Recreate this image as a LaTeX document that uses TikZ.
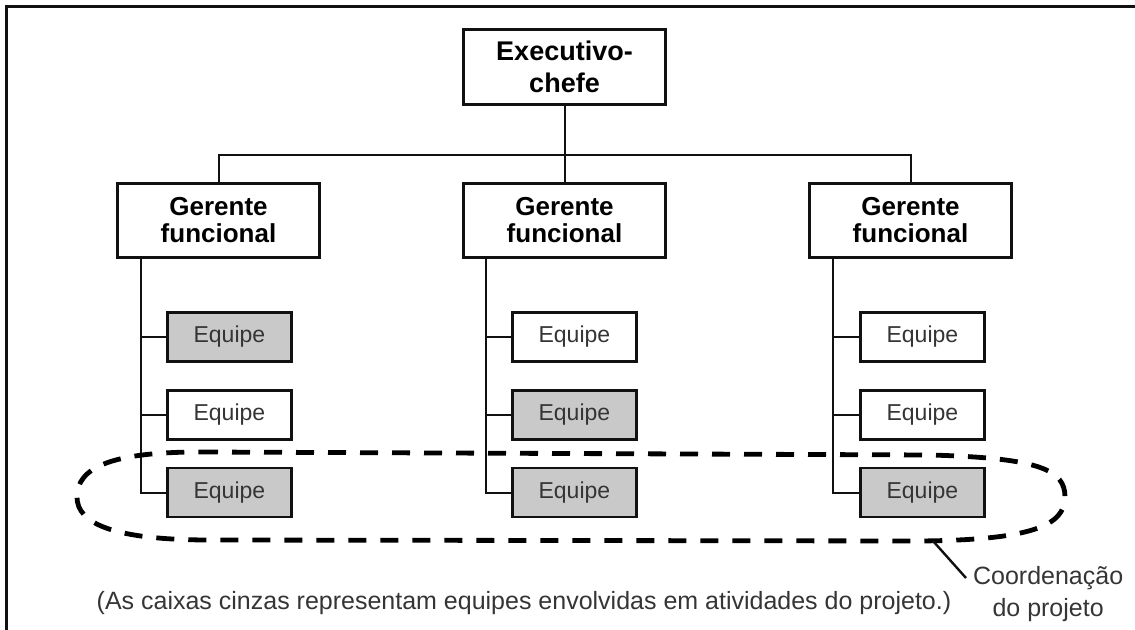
\documentclass[tikz,border=0pt]{standalone}
\usepackage{fontspec}
\setmainfont{Liberation Sans}
\usepackage{tikz}
\usetikzlibrary{positioning, calc}
\definecolor{teamgray}{HTML}{C9C9C9}
\definecolor{inkblack}{HTML}{111111}

\begin{document}
\begin{tikzpicture}[
    x=0.5pt, y=-0.5pt,
    node distance=38pt and 70.5pt,
    chief_node/.style={rectangle, draw=inkblack, line width=1.5pt, minimum width=101pt, minimum height=37.5pt, align=center, font=\fontsize{13.5}{16}\selectfont\bfseries, inner sep=1pt},
    manager_node/.style={rectangle, draw=inkblack, line width=1.5pt, minimum width=101pt, minimum height=37pt, align=center, font=\fontsize{13}{13.5}\selectfont\bfseries, inner sep=1pt},
    team_node/.style={rectangle, draw=inkblack, line width=1.4pt, fill=white, minimum width=62pt, minimum height=24.5pt, font=\fontsize{11.5}{13}\selectfont, text=inkblack!85},
    team_grey/.style={team_node, fill=teamgray},
    link/.style={draw=inkblack, line width=1pt},
    coord_line/.style={draw=black, line width=2.4pt, dash pattern=on 9pt off 7pt},
    note/.style={font=\fontsize{12.5}{16}\selectfont, text=inkblack!85, align=center}
]
\useasboundingbox (0,0) rectangle (1135,630);
\draw[inkblack, line width=1.5pt] (6,630) -- (6,7) -- (1135,7);

\node[chief_node] (exec) at (564.5,67) {Executivo-\\chefe};

% Gerentes
\node[manager_node, below=of exec] (gm) {Gerente\\funcional};
\node[manager_node, left=of gm] (gl) {Gerente\\funcional};
\node[manager_node, right=of gm] (gr) {Gerente\\funcional};

% Equipes
\node[team_grey, below right=26pt and 25pt of gl.south west] (el1) {Equipe};
\node[team_node, below=13pt of el1] (el2) {Equipe};
\node[team_grey, below=13pt of el2] (el3) {Equipe};

\node[team_node, below right=26pt and 24.5pt of gm.south west] (em1) {Equipe};
\node[team_grey, below=13pt of em1] (em2) {Equipe};
\node[team_grey, below=13pt of em2] (em3) {Equipe};

\node[team_node, below right=26pt and 25.5pt of gr.south west] (er1) {Equipe};
\node[team_node, below=13pt of er1] (er2) {Equipe};
\node[team_grey, below=13pt of er2] (er3) {Equipe};

% Connections
\coordinate (bus) at ($(exec.south)!0.645!(gm.north)$);
\draw[link] (exec) -- (gm);
\draw[link] (gl.north) |- (bus) -| (gr.north);

\coordinate (sl) at ($(gl.south west)+(12.5pt,0)$);
\coordinate (sm) at ($(gm.south west)+(12pt,0)$);
\coordinate (sr) at ($(gr.south west)+(12.5pt,0)$);
\draw[link] (sl) |- (el3);
\draw[link] (sl) |- (el2);
\draw[link] (sl) |- (el1);
\draw[link] (sm) |- (em3);
\draw[link] (sm) |- (em2);
\draw[link] (sm) |- (em1);
\draw[link] (sr) |- (er3);
\draw[link] (sr) |- (er2);
\draw[link] (sr) |- (er1);

% Coordenacao do projeto
\draw[coord_line] (200,452) -- (930,455)
    .. controls (1040,458) and (1065,470) .. (1065,497)
    .. controls (1065,526) and (1030,540) .. (920,541)
    -- (210,540)
    .. controls (112,540) and (77,523) .. (77,497)
    .. controls (77,468) and (110,452) .. cycle;
\coordinate (tip) at (933,541);
\node[note, anchor=west] (coord) at (966,594) {Coordenação\\do projeto};
\draw[link, line width=1.2pt] (tip) -- (coord.west |- 0,578);

\node[note] (caption) at (524,603) {(As caixas cinzas representam equipes envolvidas em atividades do projeto.)};
\end{tikzpicture}
\end{document}
